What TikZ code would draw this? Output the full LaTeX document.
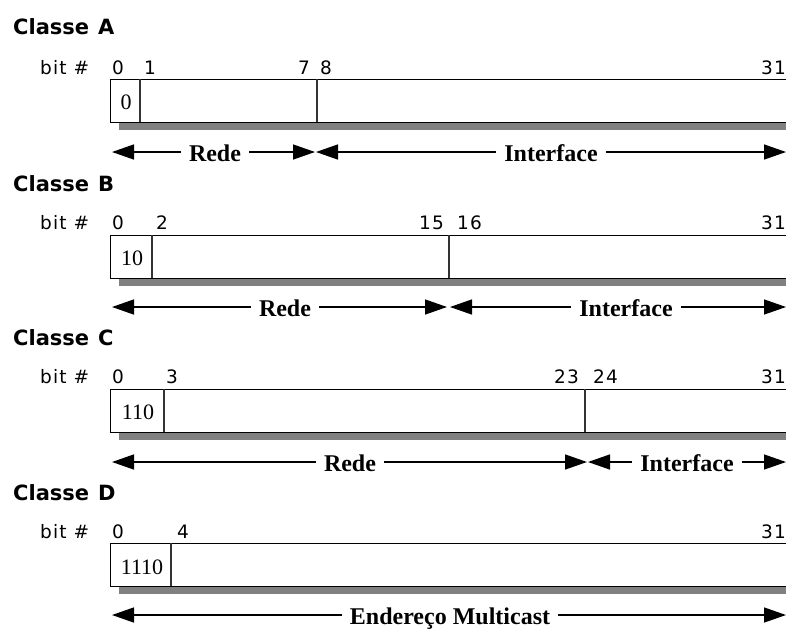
\documentclass[tikz,border=0pt]{standalone}
\usepackage{fontspec}
\setmainfont{Liberation Serif}
\newfontfamily\labelsans[LetterSpace=6]{DejaVu Sans}
\newfontfamily\titlesans{DejaVu Sans}
\usetikzlibrary{arrows.meta,shadows}

\tikzset{
  classtitle/.style={anchor=base west, inner sep=0pt, font=\titlesans\bfseries\fontsize{21}{21}\selectfont},
  bitnum/.style={anchor=base west, inner sep=0pt, font=\labelsans\fontsize{18.5}{18.5}\selectfont},
  lastbit/.style={bitnum, anchor=base east},
  cellbits/.style={anchor=base, inner sep=0pt, font=\fontsize{22}{22}\selectfont},
  field/.style={anchor=base, inner xsep=8pt, inner ysep=0pt, font=\bfseries\fontsize{24}{24}\selectfont},
  addrbox/.style={draw=black, line width=1.3pt, fill=white, anchor=north west,
    minimum width=700pt, minimum height=43pt, inner sep=0pt,
    drop shadow={shadow xshift=8pt, shadow yshift=-7pt, fill=black!50, opacity=1}},
  divider/.style={line width=1.1pt, draw=black!80},
  span/.style={line width=1.4pt, -{Triangle[length=22pt,width=15pt]}}
}

\begin{document}
\begin{tikzpicture}[x=1pt,y=-1pt]
\clip (0,0) rectangle (786,630);
\fill[white] (0,0) rectangle (786,630);

% ---------- Classe A ----------
\node[classtitle] (tA) at (13,34) {Classe\hspace{9pt}A};
\node[bitnum] (bA) at (40,74) {bit \#};
\node[bitnum] (nA0) at (112,74) {0};
\node[bitnum] (nA1) at (144,74) {1};
\node[bitnum] (nA7) at (298,74) {7};
\node[bitnum] (nA8) at (320,74) {8};
\node[lastbit] (nA31) at (786,74) {31};
\node[addrbox] (boxA) at (110,79) {};
\draw[divider] (140,79) -- (140,122);
\draw[divider] (317,79) -- (317,122);
\node[cellbits] (cA) at (126,109) {0};
\coordinate (aA1) at (112,152);
\coordinate (aA2) at (315,152);
\coordinate (aA3) at (316,152);
\coordinate (aA4) at (786,152);
\node[field] (redeA) at (215,161) {Rede};
\node[field] (ifA) at (551,161) {Interface};
\draw[span] (redeA.west |- aA1) -- (aA1);
\draw[span] (redeA.east |- aA2) -- (aA2);
\draw[span] (ifA.west |- aA3) -- (aA3);
\draw[span] (ifA.east |- aA4) -- (aA4);

% ---------- Classe B ----------
\node[classtitle] (tB) at (13,191) {Classe\hspace{9pt}B};
\node[bitnum] (bB) at (40,229) {bit \#};
\node[bitnum] (nB0) at (112,229) {0};
\node[bitnum] (nB2) at (156,229) {2};
\node[bitnum] (nB15) at (419,229) {15};
\node[bitnum] (nB16) at (457,229) {16};
\node[lastbit] (nB31) at (786,229) {31};
\node[addrbox] (boxB) at (110,235) {};
\draw[divider] (152,235) -- (152,278);
\draw[divider] (449,235) -- (449,278);
\node[cellbits] (cB) at (132,265) {10};
\coordinate (aB1) at (112,307);
\coordinate (aB2) at (447,307);
\coordinate (aB3) at (450,307);
\coordinate (aB4) at (786,307);
\node[field] (redeB) at (285,316) {Rede};
\node[field] (ifB) at (626,316) {Interface};
\draw[span] (redeB.west |- aB1) -- (aB1);
\draw[span] (redeB.east |- aB2) -- (aB2);
\draw[span] (ifB.west |- aB3) -- (aB3);
\draw[span] (ifB.east |- aB4) -- (aB4);

% ---------- Classe C ----------
\node[classtitle] (tC) at (13,345) {Classe\hspace{9pt}C};
\node[bitnum] (bC) at (40,383) {bit \#};
\node[bitnum] (nC0) at (112,383) {0};
\node[bitnum] (nC3) at (166,383) {3};
\node[bitnum] (nC23) at (554,383) {23};
\node[bitnum] (nC24) at (593,383) {24};
\node[lastbit] (nC31) at (786,383) {31};
\node[addrbox] (boxC) at (110,389) {};
\draw[divider] (164,389) -- (164,432);
\draw[divider] (585,389) -- (585,432);
\node[cellbits] (cC) at (138,419) {110};
\coordinate (aC1) at (112,462);
\coordinate (aC2) at (587,462);
\coordinate (aC3) at (588,462);
\coordinate (aC4) at (786,462);
\node[field] (redeC) at (350,471) {Rede};
\node[field] (ifC) at (687,471) {Interface};
\draw[span] (redeC.west |- aC1) -- (aC1);
\draw[span] (redeC.east |- aC2) -- (aC2);
\draw[span] (ifC.west |- aC3) -- (aC3);
\draw[span] (ifC.east |- aC4) -- (aC4);

% ---------- Classe D ----------
\node[classtitle] (tD) at (13,500) {Classe\hspace{9pt}D};
\node[bitnum] (bD) at (40,538) {bit \#};
\node[bitnum] (nD0) at (112,538) {0};
\node[bitnum] (nD4) at (177,538) {4};
\node[lastbit] (nD31) at (786,538) {31};
\node[addrbox] (boxD) at (110,543) {};
\draw[divider] (171,543) -- (171,586);
\node[cellbits] (cD) at (142,574) {1110};
\coordinate (aD1) at (112,615);
\coordinate (aD2) at (786,615);
\node[field] (mcD) at (450,624) {Endereço Multicast};
\draw[span] (mcD.west |- aD1) -- (aD1);
\draw[span] (mcD.east |- aD2) -- (aD2);
\end{tikzpicture}
\end{document}
